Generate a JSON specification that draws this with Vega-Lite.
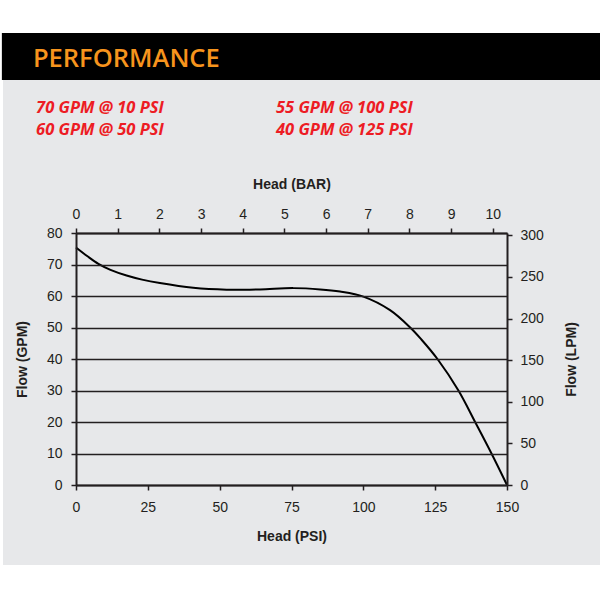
{
  "$schema": "https://vega.github.io/schema/vega-lite/v6.json",
  "width": 431,
  "height": 252,
  "autosize": {"type": "none"},
  "padding": {"left": 76, "top": 233, "right": 93, "bottom": 115},
  "background": "#ffffff",
  "config": {
    "view": {"stroke": null},
    "axis": {
      "labelFont": "Liberation Sans",
      "labelFontSize": 14,
      "labelColor": "#231f20",
      "labelFlush": false,
      "labelOverlap": false,
      "titleFont": "Liberation Sans",
      "titleFontSize": 14,
      "titleFontWeight": "bold",
      "titleColor": "#231f20",
      "domainColor": "#231f20",
      "domainWidth": 2,
      "tickColor": "#231f20",
      "tickWidth": 1.5,
      "tickSize": 5
    }
  },
  "data": {
    "values": [
      {"psi": 0, "gpm": 75.4},
      {"psi": 4, "gpm": 72.6},
      {"psi": 7.8, "gpm": 70.2},
      {"psi": 12, "gpm": 68.3},
      {"psi": 17.6, "gpm": 66.5},
      {"psi": 23, "gpm": 65.2},
      {"psi": 29.2, "gpm": 64.1},
      {"psi": 40.8, "gpm": 62.6},
      {"psi": 52.4, "gpm": 62.0},
      {"psi": 64, "gpm": 62.1},
      {"psi": 75.6, "gpm": 62.5},
      {"psi": 85, "gpm": 62.1},
      {"psi": 91.9, "gpm": 61.4},
      {"psi": 100, "gpm": 59.8},
      {"psi": 109.3, "gpm": 55.5},
      {"psi": 116.3, "gpm": 50.0},
      {"psi": 120.2, "gpm": 46.2},
      {"psi": 125.8, "gpm": 40.0},
      {"psi": 133.1, "gpm": 30.0},
      {"psi": 138.9, "gpm": 20.0},
      {"psi": 144.6, "gpm": 10.0},
      {"psi": 150, "gpm": 0}
    ]
  },
  "layer": [
    {
      "layer": [
        {
          "data": {"values": [{}]},
          "mark": {"type": "rect", "color": "#e7e8ea"},
          "encoding": {
            "x": {"datum": -25.4, "type": "quantitative", "scale": {"domain": [0, 150]},
              "axis": {"orient": "bottom", "title": "Head (PSI)", "values": [0, 25, 50, 75, 100, 125, 150], "grid": false, "labelPadding": 10, "titlePadding": 15, "zindex": 2}},
            "x2": {"datum": 185},
            "y": {"datum": 128.6, "type": "quantitative", "scale": {"domain": [0, 80]},
              "axis": {"orient": "left", "title": "Flow (GPM)", "values": [0, 10, 20, 30, 40, 50, 60, 70, 80], "grid": true, "gridColor": "#231f20", "gridWidth": 1.5, "gridOpacity": 1, "labelPadding": 9, "titlePadding": 17, "zindex": 2}},
            "y2": {"datum": -25.4}
          }
        },
        {
          "data": {"values": [{}]},
          "mark": {"type": "rect", "color": "#000000"},
          "encoding": {
            "x": {"datum": -25.8, "type": "quantitative", "scale": {"domain": [0, 150]},
              "axis": {"orient": "bottom", "title": "Head (PSI)", "values": [0, 25, 50, 75, 100, 125, 150], "grid": false, "labelPadding": 10, "titlePadding": 15, "zindex": 2}},
            "x2": {"datum": 185},
            "y": {"datum": 143.5, "type": "quantitative", "scale": {"domain": [0, 80]},
              "axis": {"orient": "left", "title": "Flow (GPM)", "values": [0, 10, 20, 30, 40, 50, 60, 70, 80], "grid": true, "gridColor": "#231f20", "gridWidth": 1.5, "gridOpacity": 1, "labelPadding": 9, "titlePadding": 17, "zindex": 2}},
            "y2": {"datum": 128.6}
          }
        },
        {
          "data": {"values": [{}]},
          "mark": {"type": "text", "text": "PERFORMANCE", "align": "left", "baseline": "alphabetic", "font": "Open Sans", "fontWeight": 600, "fontSize": 25.5, "color": "#f7941d"},
          "encoding": {
            "x": {"datum": -15.0, "type": "quantitative", "scale": {"domain": [0, 150]},
              "axis": {"orient": "bottom", "title": "Head (PSI)", "values": [0, 25, 50, 75, 100, 125, 150], "grid": false, "labelPadding": 10, "titlePadding": 15, "zindex": 2}},
            "y": {"datum": 132.7, "type": "quantitative", "scale": {"domain": [0, 80]},
              "axis": {"orient": "left", "title": "Flow (GPM)", "values": [0, 10, 20, 30, 40, 50, 60, 70, 80], "grid": true, "gridColor": "#231f20", "gridWidth": 1.5, "gridOpacity": 1, "labelPadding": 9, "titlePadding": 17, "zindex": 2}}
          }
        },
        {
          "data": {"values": [{}]},
          "mark": {"type": "text", "text": "70 GPM @ 10 PSI\n60 GPM @ 50 PSI", "lineBreak": "\n", "lineHeight": 22, "align": "left", "baseline": "alphabetic", "font": "Open Sans", "fontWeight": "bold", "fontStyle": "italic", "fontSize": 16.5, "color": "#ed1c24"},
          "encoding": {
            "x": {"datum": -13.9, "type": "quantitative", "scale": {"domain": [0, 150]},
              "axis": {"orient": "bottom", "title": "Head (PSI)", "values": [0, 25, 50, 75, 100, 125, 150], "grid": false, "labelPadding": 10, "titlePadding": 15, "zindex": 2}},
            "y": {"datum": 118.1, "type": "quantitative", "scale": {"domain": [0, 80]},
              "axis": {"orient": "left", "title": "Flow (GPM)", "values": [0, 10, 20, 30, 40, 50, 60, 70, 80], "grid": true, "gridColor": "#231f20", "gridWidth": 1.5, "gridOpacity": 1, "labelPadding": 9, "titlePadding": 17, "zindex": 2}}
          }
        },
        {
          "data": {"values": [{}]},
          "mark": {"type": "text", "text": "55 GPM @ 100 PSI\n40 GPM @ 125 PSI", "lineBreak": "\n", "lineHeight": 22, "align": "left", "baseline": "alphabetic", "font": "Open Sans", "fontWeight": "bold", "fontStyle": "italic", "fontSize": 16.5, "color": "#ed1c24"},
          "encoding": {
            "x": {"datum": 69.6, "type": "quantitative", "scale": {"domain": [0, 150]},
              "axis": {"orient": "bottom", "title": "Head (PSI)", "values": [0, 25, 50, 75, 100, 125, 150], "grid": false, "labelPadding": 10, "titlePadding": 15, "zindex": 2}},
            "y": {"datum": 118.1, "type": "quantitative", "scale": {"domain": [0, 80]},
              "axis": {"orient": "left", "title": "Flow (GPM)", "values": [0, 10, 20, 30, 40, 50, 60, 70, 80], "grid": true, "gridColor": "#231f20", "gridWidth": 1.5, "gridOpacity": 1, "labelPadding": 9, "titlePadding": 17, "zindex": 2}}
          }
        },
        {
          "mark": {"type": "line", "color": "#000000", "strokeWidth": 2, "interpolate": "catmull-rom"},
          "encoding": {
            "x": {
              "field": "psi", "type": "quantitative",
              "scale": {"domain": [0, 150]},
              "axis": {"orient": "bottom", "title": "Head (PSI)", "values": [0, 25, 50, 75, 100, 125, 150], "grid": false, "labelPadding": 10, "titlePadding": 15, "zindex": 2}
            },
            "y": {
              "field": "gpm", "type": "quantitative",
              "scale": {"domain": [0, 80]},
              "axis": {"orient": "left", "title": "Flow (GPM)", "values": [0, 10, 20, 30, 40, 50, 60, 70, 80], "grid": true, "gridColor": "#231f20", "gridWidth": 1.5, "gridOpacity": 1, "labelPadding": 9, "titlePadding": 17, "zindex": 2}
            }
          }
        }
      ]
    },
    {
      "data": {"values": [{}]},
      "mark": {"type": "point", "opacity": 0},
      "encoding": {
        "x": {
          "datum": 0, "type": "quantitative",
          "scale": {"domain": [0, 10.3421]},
          "axis": {"orient": "top", "title": "Head (BAR)", "values": [0, 1, 2, 3, 4, 5, 6, 7, 8, 9, 10], "grid": false, "labelPadding": 7, "titlePadding": 16, "zindex": 2}
        },
        "y": {
          "datum": 0, "type": "quantitative",
          "scale": {"domain": [0, 302.83]},
          "axis": {"orient": "right", "title": "Flow (LPM)", "values": [0, 50, 100, 150, 200, 250, 300], "grid": false, "labelPadding": 8, "titlePadding": 35, "titleAngle": 270, "zindex": 2}
        }
      }
    }
  ],
  "resolve": {"scale": {"x": "independent", "y": "independent"}}
}
